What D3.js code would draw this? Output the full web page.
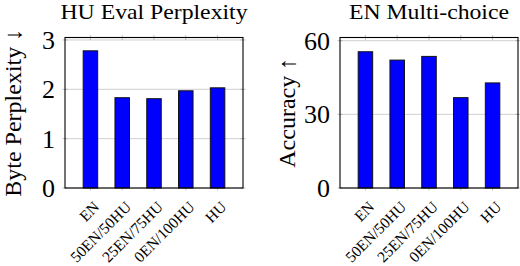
<!DOCTYPE html>
<html>
<head>
<meta charset="utf-8">
<script src="https://cdn.jsdelivr.net/npm/d3@7"></script>
<style>
  body { margin: 0; background: #fff; }
  text { font-family: "Liberation Serif", "DejaVu Serif", serif; fill: #000; }
</style>
</head>
<body>
<svg id="chart"></svg>
<script>
var width = 520,
  height = 266;

// data
var categories = ['EN', '50EN/50HU', '25EN/75HU', '0EN/100HU', 'HU'];
var perplexity = [2.78, 1.83, 1.81, 1.97, 2.03];
var accuracy = [55.5, 52.1, 53.6, 36.8, 42.8];
var perplexityTicks = [0, 1, 2, 3];
var accuracyTicks = [0, 30, 60];

var svg = d3.select('#chart')
  .attr('width', width)
  .attr('height', height);

var plotTop = 37.5,
  plotBottom = 188,
  panelW = 178;

function drawPanel(opts) {
  var g = svg.append('g')
    .attr('transform', 'translate(' + opts.left + ',0)');

  var x = d3.scalePoint()
    .domain(categories)
    .range([0, panelW])
    .padding(0.8);

  var y = d3.scaleLinear()
    .domain([0, opts.max])
    .range([plotBottom, plotTop]);

  // grid
  g.selectAll('.grid')
    .data(opts.ticks)
    .enter().append('line')
    .attr('x1', 0)
    .attr('x2', panelW)
    .attr('y1', function(d) { return y(d); })
    .attr('y2', function(d) { return y(d); })
    .attr('stroke', '#c4c4c4')
    .attr('stroke-width', 0.8);

  // small tick marks on all sides
  categories.forEach(function(c) {
    [plotTop, plotBottom].forEach(function(yy) {
      g.append('line')
        .attr('x1', x(c)).attr('x2', x(c))
        .attr('y1', yy - 2.5).attr('y2', yy + 2.5)
        .attr('stroke', '#999').attr('stroke-width', 0.6);
    });
  });
  opts.ticks.forEach(function(t) {
    [0, panelW].forEach(function(xx) {
      g.append('line')
        .attr('x1', xx - 2.5).attr('x2', xx + 2.5)
        .attr('y1', y(t)).attr('y2', y(t))
        .attr('stroke', '#999').attr('stroke-width', 0.6);
    });
  });

  // bars
  var bw = 14.5;
  g.selectAll('.bar')
    .data(opts.values)
    .enter().append('rect')
    .attr('x', function(d, i) { return x(categories[i]) - bw / 2; })
    .attr('y', function(d) { return y(d); })
    .attr('width', bw)
    .attr('height', function(d) { return plotBottom - y(d); })
    .attr('fill', '#0000ff')
    .attr('stroke', '#111')
    .attr('stroke-width', 1);

  // frame
  g.append('rect')
    .attr('x', 0)
    .attr('y', plotTop)
    .attr('width', panelW)
    .attr('height', plotBottom - plotTop)
    .attr('fill', 'none')
    .attr('stroke', '#000')
    .attr('stroke-width', 1.1);

  // y tick labels
  g.selectAll('.ylab')
    .data(opts.ticks)
    .enter().append('text')
    .attr('x', -10)
    .attr('y', function(d) { return y(d); })
    .attr('dy', '0.35em')
    .attr('text-anchor', 'end')
    .style('font-size', '26px')
    .text(function(d) { return d; });

  // x tick labels
  g.selectAll('.xlab')
    .data(categories)
    .enter().append('text')
    .attr('transform', function(d) {
      return 'translate(' + (x(d) + 6) + ',' + (plotBottom + 16) + ')rotate(-45)';
    })
    .attr('text-anchor', 'end')
    .attr('dy', '0.35em')
    .style('font-size', '15.5px')
    .text(function(d) { return d; });

  // title (slightly wide, as in the reference)
  g.append('text')
    .attr('transform', 'translate(' + (panelW / 2) + ',19)scale(1.13,1)')
    .attr('text-anchor', 'middle')
    .style('font-size', '21px')
    .text(opts.title);

  // y label
  g.append('text')
    .attr('transform', 'translate(' + opts.labelX + ',' + ((plotTop + plotBottom) / 2) + ')rotate(-90)')
    .attr('text-anchor', 'middle')
    .attr('dy', '0.35em')
    .style('font-size', '24px')
    .text(opts.label);
}

drawPanel({
  left: 65,
  values: perplexity,
  ticks: perplexityTicks,
  max: 3.05,
  title: 'HU Eval Perplexity',
  label: 'Byte Perplexity \u2193',
  labelX: -52
});

drawPanel({
  left: 340,
  values: accuracy,
  ticks: accuracyTicks,
  max: 61.3,
  title: 'EN Multi-choice',
  label: 'Accuracy \u2191',
  labelX: -53
});
</script>
</body>
</html>
